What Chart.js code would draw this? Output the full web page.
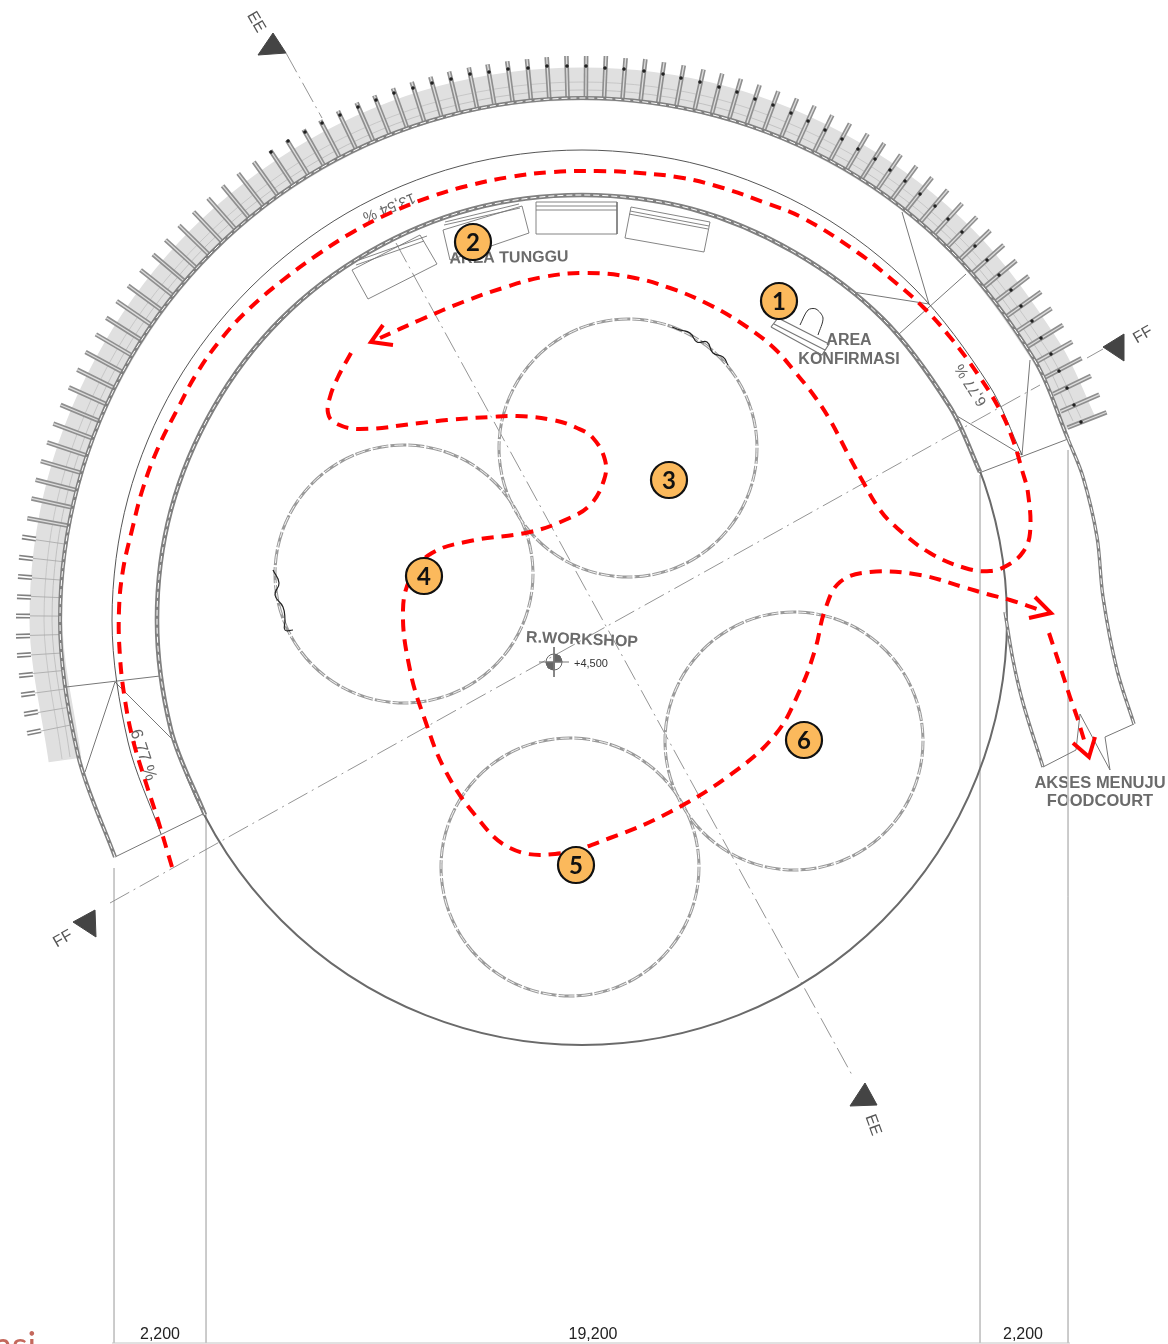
<!DOCTYPE html>
<html>
<head>
<meta charset="utf-8">
<title>Denah R.Workshop</title>
<script src="https://cdn.jsdelivr.net/npm/chart.js@4"></script>
<style>
  html, body { margin: 0; padding: 0; background: #fff; }
  canvas { display: block; }
</style>
</head>
<body>
<canvas id="plan" width="1168" height="1344"></canvas>
<script>

// long ribs on the canopy, middle of each rib
var ribX = [1087,1080,1072,1063,1054,1045,1034,1024,1012,1000,988,975,962,948,934,919,904,889,873,857,840,823,806,789,771,753,735,717,699,680,661,643,624,605,586,567,548,529,510,491,473,454,436,418,400,382,365,347,330,314,298,282,266,251,236,222,208,194,181,169,157,145,134,124,114,104,96,88,80,73,67,61,56,52,48];
var ribY = [420,403,385,368,352,336,320,304,289,274,259,245,232,219,206,194,183,172,161,152,142,134,125,118,111,105,99,94,90,86,83,80,79,77,77,77,78,80,82,85,88,92,97,102,108,115,122,130,139,148,158,168,179,190,202,214,227,240,254,268,283,298,313,329,345,362,379,396,413,431,449,467,485,503,522];
// short forked ribs on the lower left
var forkX = [29,26,25,24,23,23,24,26,28,31,34];
var forkY = [538,558,577,597,616,636,655,675,694,713,732];
var forkLineX = [51,48,47,45,45,45,46,48,50,53,56];
var forkLineY = [542,560,579,597,616,635,654,672,691,710,728];
// black bolts on the ribs
var boltX = [1081,1074,1067,1059,1051,1041,1032,1021,1011,999,987,975,962,948,935,920,905,890,875,858,842,825,808,791,773,755,737,719,700,681,663,644,624,605,586,567,547,528,508,489,470,451,432,413,394,376,358,340,322,305,288,271];
var boltY = [422,405,388,371,354,338,321,306,290,275,260,246,232,219,206,194,181,170,159,149,139,130,121,113,105,99,92,87,82,78,74,71,69,68,66,66,66,68,69,72,74,79,83,88,93,100,107,115,123,132,141,152];

var canopyBand = [[65,760],[46,620],[64,481],[118,352],[203,241],[314,156],[443,102],[582,84],[721,102],[850,156],[961,241],[1046,352],[1080,423]];
var canopyLineA = [[70,757],[52,620],[70,483],[123,355],[207,245],[317,161],[445,108],[582,90],[719,108],[847,161],[957,245],[1041,355],[1073,421]];
var canopyLineB = [[62,759],[44,620],[62,481],[116,351],[202,240],[313,154],[443,100],[582,82],[721,100],[851,154],[962,240],[1048,351],[1081,418]];

var outerWall = [[115,857],[78,755],[60,620],[78,485],[130,359],[213,251],[321,168],[447,116],[582,98],[717,116],[843,168],[951,251],[1034,359],[1068,439]];
var midCurve = [[161,834],[128,742],[112,620],[128,498],[175,385],[250,288],[347,213],[460,166],[582,150],[704,166],[817,213],[914,288],[989,385],[1022,455]];
var innerWall = [[205,815],[171,730],[157,620],[171,510],[214,407],[281,319],[369,252],[472,209],[582,195],[692,209],[794,252],[883,319],[950,407],[980,472]];
var rampOuter = [[1068,439],[1083,477],[1097,537],[1103,597],[1117,670],[1134,724]];
var rampInner = [[1005,612],[1013,660],[1023,703],[1043,767]];

// thin straight pieces, null breaks the line
var thinLines = [
  [115,857],[205,813],null,[979,473],[1068,439],null,
  [1043,767],[1076,750],[1080,714],[1110,770],[1105,737],[1134,724],null,
  [902,212],[929,304],null,[966,274],[899,334],null,[853,292],[929,304],null,
  [1030,360],[1022,455],null,[957,416],[1022,455],null,
  [66,687],[160,676],null,[115,682],[85,772],null,[115,682],[174,741]
];
var centreLines = [[286,53],[322,118],null,[396,243],[852,1075],null,[110,903],[1040,385],null,[1087,358],[1103,349]];
var dimLines = [[114,868],[114,1343],null,[206,815],[206,1343],null,[980,475],[980,1343],null,[1068,450],[1068,1343],null,[112,1343],[1070,1343]];

var benches = [
  [352,270],[368,299],[437,264],[420,235],[352,270],null,[356,265],[424,241],null,[359,260],[427,236],null,
  [443,230],[522,206],[529,233],[450,260],[443,230],null,[444,225],[520,208],null,[445,222],[519,204],null,
  [536,202],[617,202],[617,234],[536,234],[536,202],null,[536,206],[617,206],null,[536,210],[617,210],null,
  [631,207],[710,222],[704,252],[625,238],[631,207],null,[630,211],[709,226],null,[629,214],[708,229]
];
var desk = [[771,327],[778,318],[829,344],[822,355],[771,327],null,[774,324],[825,350]];
var chair = [[800,325],[808,310],[816,309],[823,318],[818,335]];
var squiggleTop = [[672,327],[680,330],[690,333],[697,342],[707,342],[713,353],[723,357],[728,365]];
var squiggleLeft = [[273,570],[279,583],[275,595],[283,607],[285,620],[285,630],[293,630]];

var triEETop = [[273,33],[258,55],[286,53],[273,33]];
var triEEBottom = [[865,1083],[850,1106],[877,1105],[865,1083]];
var triFFRight = [[1124,334],[1103,347],[1124,361],[1124,334]];
var triFFLeft = [[95,910],[73,922],[96,937],[95,910]];

var levelCross = [[539,662],[569,662],null,[554,647],[554,677]];
var levelQuarterA = [[554,662],[554,654],[560,656],[562,662],[554,662]];
var levelQuarterB = [[554,662],[554,670],[548,668],[546,662],[554,662]];

// visitor route, red dashes
var routeOne = [[172,867],[157,817],[145,780],[133,740],[125,700],[120,657],[119,610],[123,570],[132,530],[143,488],[158,448],[177,410],[197,373],[222,338],[250,308],[283,280],[317,255],[353,232],[390,213],[430,197],[467,186],[510,177],[553,172],[597,171],[640,173],[683,178],[723,188],[763,202],[803,218],[857,252],[890,278],[923,307],[950,337],[977,373],[1000,410],[1013,440],[1022,470],[1028,493],[1030,533],[1023,552],[1008,565],[990,571],[965,568],[930,553],[897,528],[880,510],[862,480],[850,458],[830,420],[815,397],[795,372],[775,349],[747,327],[710,305],[670,288],[630,277],[587,273],[543,277],[503,288],[463,302],[420,320],[380,338]];
var routeTwo = [[351,353],[338,377],[330,397],[328,413],[335,423],[360,429],[420,423],[447,420],[490,417],[517,416],[553,420],[577,428],[593,438],[605,460],[604,480],[590,505],[565,520],[530,532],[470,541],[432,553],[412,575],[403,610],[410,670],[425,720],[445,770],[475,815],[510,848],[555,854],[610,838],[670,812],[730,775],[775,735],[800,690],[815,650],[825,610],[840,582],[870,572],[920,575],[963,587],[987,594],[1010,600],[1037,609]];
var routeThree = [[1049,633],[1058,660],[1070,697],[1077,717],[1085,743]];
var arrowOne = [[383,325],[371,342],[393,345]];
var arrowTwo = [[1035,597],[1051,613],[1029,618]];
var arrowThree = [[1073,743],[1089,757],[1095,737]];

// round rooms
var roomX = [628,404,570,794];
var roomY = [448,574,867,741];
var roomR = [129,129,129,129];
var hallX = [582];
var hallY = [620];
var hallR = [425];

// numbered stops
var stopNames = ['1','2','3','4','5','6'];
var stopX = [779,473,669,424,576,804];
var stopY = [301,242,480,576,865,740];
var stopR = [18,18,18,18,18,18];

var labels = [
  ['AREA TUNGGU',509,258,-1,16,'bold','#6b6b6b'],
  ['AREA',849,341,0,16,'bold','#6b6b6b'],
  ['KONFIRMASI',849,360,0,16,'bold','#6b6b6b'],
  ['R.WORKSHOP',582,640,2.5,16,'bold','#6b6b6b'],
  ['+4,500',591,664,0,11,'normal','#333'],
  ['AKSES MENUJU',1100,783,0,16.5,'bold','#6b6b6b'],
  ['FOODCOURT',1100,801,0,16.5,'bold','#6b6b6b'],
  ['13,54 %',389,207,158,15,'normal','#666'],
  ['6,77 %',971,385,-122,15,'normal','#666'],
  ['6,77 %',143,755,72,17,'normal','#666'],
  ['FF',1143,335,-30,16,'normal','#555'],
  ['FF',63,939,-30,16,'normal','#555'],
  ['EE',256,22,60,16,'normal','#555'],
  ['EE',873,1125,70,16,'normal','#555'],
  ['2,200',160,1335,0,16,'normal','#222'],
  ['19,200',593,1335,0,16,'normal','#222'],
  ['2,200',1023,1335,0,16,'normal','#222']
];

var ringCentreX = 582;
var ringCentreY = 620;
var RED = '#ff0000';
var WALL = '#808080';

function pts(list) {
  return list.map(function (p) {
    return p ? { x: p[0], y: p[1] } : { x: null, y: null };
  });
}
function zip(xs, ys) {
  return xs.map(function (x, i) { return { x: x, y: ys[i] }; });
}
function zip3(xs, ys, rs) {
  return xs.map(function (x, i) { return { x: x, y: ys[i], r: rs[i] }; });
}
function path(list, color, width, extra) {
  return Object.assign({
    type: 'scatter', data: pts(list), showLine: true, borderColor: color,
    borderWidth: width, pointRadius: 0, tension: 0, fill: false
  }, extra || {});
}
function curve(list, color, width, extra) {
  return path(list, color, width, Object.assign({ tension: 0.33 }, extra || {}));
}
function shape(list, color) {
  return path(list, color, 1, { fill: 'shape', backgroundColor: color });
}
function wall(list, width) {
  // grey line with the white dashes of the double wall on top of it
  return [
    curve(list, '#ffffff', 1, { borderDash: [6, 3] }),
    curve(list, WALL, width)
  ];
}
function ticks(xs, ys, radius, color, width) {
  return {
    type: 'scatter', data: zip(xs, ys), showLine: false, pointStyle: 'line',
    pointRadius: radius, pointBorderColor: color, pointBorderWidth: width,
    pointBackgroundColor: color,
    pointRotation: function (c) {
      if (!c.raw) return 0;
      return Math.atan2(c.raw.y - ringCentreY, c.raw.x - ringCentreX) * 180 / Math.PI;
    }
  };
}
function ringBubbles(xs, ys, rs, color, width, dash) {
  return {
    type: 'bubble', data: zip3(xs, ys, rs), borderColor: color, borderWidth: width,
    backgroundColor: 'rgba(0,0,0,0)', ringDash: dash
  };
}

// first dataset is painted last
var datasets = [].concat(
  [{ type: 'bubble', data: zip3(stopX, stopY, stopR), backgroundColor: '#fbb95c', borderColor: '#111', borderWidth: 2.2 }],
  [
    path(arrowOne, RED, 4),
    path(arrowTwo, RED, 4),
    path(arrowThree, RED, 4),
    curve(routeOne, RED, 4, { tension: 0.4, borderDash: [12, 8] }),
    curve(routeTwo, RED, 4, { tension: 0.4, borderDash: [12, 8] }),
    curve(routeThree, RED, 4, { tension: 0.2, borderDash: [12, 8] })
  ],
  [
    path(levelCross, '#777', 1),
    shape(levelQuarterA, '#666'),
    shape(levelQuarterB, '#666'),
    ringBubbles([554], [662], [8], '#666', 1)
  ],
  [
    curve(squiggleTop, '#222', 1.2, { tension: 0.5 }),
    curve(squiggleLeft, '#222', 1.2, { tension: 0.5 }),
    path(desk, '#777', 1.2),
    curve(chair, '#333', 1, { tension: 0.3 }),
    path(benches, '#777', 0.9)
  ],
  [
    ringBubbles(roomX, roomY, roomR, '#ffffff', 0.9, [9, 4]),
    ringBubbles(roomX, roomY, roomR, '#9a9a9a', 3, [16, 2])
  ],
  wall(innerWall, 4.6),
  wall(outerWall, 4),
  wall(rampOuter, 3.4),
  wall(rampInner, 3.4),
  [
    curve(midCurve, '#555', 1),
    ringBubbles(hallX, hallY, hallR, '#6a6a6a', 2),
    path(thinLines, '#777', 1),
    path(centreLines, '#888', 0.9, { borderDash: [22, 5, 2, 5] }),
    path(dimLines, '#c4c4c4', 1),
    shape(triEETop, '#444'),
    shape(triEEBottom, '#444'),
    shape(triFFRight, '#444'),
    shape(triFFLeft, '#444')
  ],
  [
    {
      type: 'scatter', data: zip(boltX, boltY), showLine: false, pointRadius: 1.5,
      pointBackgroundColor: '#222', pointBorderColor: '#222', pointBorderWidth: 0.5
    },
    ticks(ribX, ribY, 21, '#dddddd', 1.3),
    ticks(ribX, ribY, 21, '#8f8f8f', 4.6),
    ticks(forkX, forkY, 7, '#ffffff', 1.8),
    ticks(forkX, forkY, 7, '#808080', 5),
    ticks(forkLineX, forkLineY, 16, '#a6a6a6', 0.8),
    curve(canopyLineA, '#b5b5b5', 0.7),
    curve(canopyLineB, '#bcbcbc', 0.7),
    curve(canopyBand, '#e0e0e0', 33)
  ]
);

var planText = {
  id: 'planText',
  beforeDatasetDraw: function (chart, args) {
    var d = chart.data.datasets[args.index];
    if (d.ringDash) chart.ctx.setLineDash(d.ringDash);
  },
  afterDatasetDraw: function (chart) {
    chart.ctx.setLineDash([]);
  },
  beforeDatasetsDraw: function (chart) {
    var ctx = chart.ctx, sx = chart.scales.x, sy = chart.scales.y;
    ctx.save();
    ctx.textAlign = 'center';
    ctx.textBaseline = 'middle';
    labels.forEach(function (l) {
      ctx.save();
      ctx.translate(sx.getPixelForValue(l[1]), sy.getPixelForValue(l[2]));
      ctx.rotate(l[3] * Math.PI / 180);
      ctx.font = l[5] + ' ' + l[4] + 'px "Liberation Sans", Arial, sans-serif';
      ctx.fillStyle = l[6];
      ctx.fillText(l[0], 0, 0);
      ctx.restore();
    });
    // piece of a caption cut off by the page edge
    ctx.textAlign = 'left';
    ctx.font = '36px Lato, sans-serif';
    ctx.fillStyle = '#c4685c';
    ctx.fillText('asi', sx.getPixelForValue(-6), sy.getPixelForValue(1346));
    ctx.restore();
  },
  afterDatasetsDraw: function (chart) {
    var ctx = chart.ctx, sx = chart.scales.x, sy = chart.scales.y;
    ctx.save();
    ctx.textAlign = 'center';
    ctx.textBaseline = 'middle';
    ctx.font = 'bold 24px Lato, sans-serif';
    ctx.fillStyle = '#111';
    stopNames.forEach(function (n, i) {
      ctx.fillText(n, sx.getPixelForValue(stopX[i]), sy.getPixelForValue(stopY[i]) + 1);
    });
    ctx.restore();
  }
};

new Chart(document.getElementById('plan'), {
  type: 'scatter',
  data: { datasets: datasets },
  plugins: [planText],
  options: {
    responsive: false,
    animation: false,
    layout: { padding: 0, autoPadding: false },
    plugins: { legend: { display: false }, tooltip: { enabled: false } },
    scales: {
      x: { type: 'linear', display: false, min: 0, max: 1168 },
      y: { type: 'linear', display: false, min: 0, max: 1344, reverse: true }
    }
  }
});
</script>
</body>
</html>
